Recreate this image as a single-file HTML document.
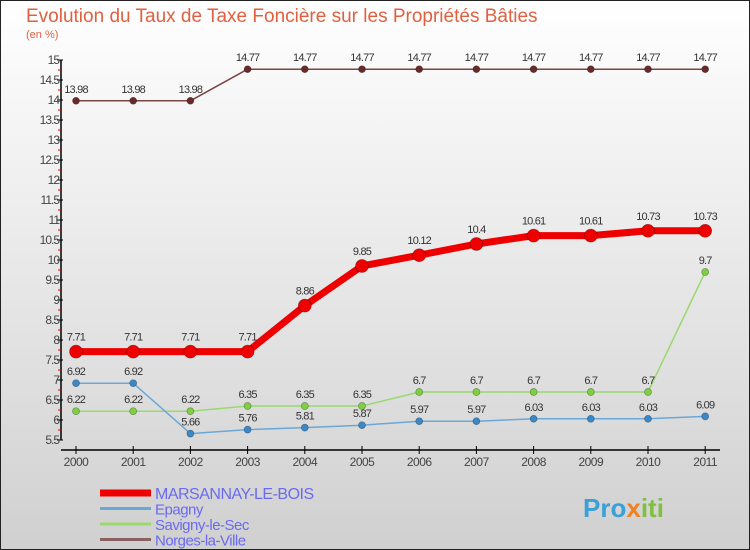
<!DOCTYPE html>
<html><head><meta charset="utf-8"><style>
body{margin:0;}
#wrap{width:750px;height:550px;position:relative;overflow:hidden;}
svg{display:block;font-family:"Liberation Sans",sans-serif;}
</style></head><body>
<div id="wrap">
<svg id="chart" width="750" height="550" viewBox="0 0 750 550" xmlns="http://www.w3.org/2000/svg">
<defs><linearGradient id="bg" x1="0" y1="0" x2="0" y2="1"><stop offset="0" stop-color="#ffffff"/><stop offset="1" stop-color="#d0d0d0"/></linearGradient></defs>
<rect x="0.5" y="0.5" width="749" height="549" fill="url(#bg)" stroke="#222"/>
<text x="26" y="22" font-size="19" fill="#e06040">Evolution du Taux de Taxe Foncière sur les Propriétés Bâties</text>
<text x="26" y="38" font-size="11" fill="#e06040">(en %)</text>
<g id="axes"></g><g id="series"></g><g id="legend"></g>
<text x="583" y="517" font-size="26" font-weight="bold" fill="#3aa0d8">Pro<tspan fill="#f08020">x</tspan><tspan fill="#80c040">iti</tspan></text>
</svg></div>
<script>
const years=[2000,2001,2002,2003,2004,2005,2006,2007,2008,2009,2010,2011];
const marsannay=[7.71,7.71,7.71,7.71,8.86,9.85,10.12,10.4,10.61,10.61,10.73,10.73];
const epagny=[6.92,6.92,5.66,5.76,5.81,5.87,5.97,5.97,6.03,6.03,6.03,6.09];
const savigny=[6.22,6.22,6.22,6.35,6.35,6.35,6.7,6.7,6.7,6.7,6.7,9.7];
const norges=[13.98,13.98,13.98,14.77,14.77,14.77,14.77,14.77,14.77,14.77,14.77,14.77];
const yTicks=[5.5,6,6.5,7,7.5,8,8.5,9,9.5,10,10.5,11,11.5,12,12.5,13,13.5,14,14.5,15];
const names=["MARSANNAY-LE-BOIS","Epagny","Savigny-le-Sec","Norges-la-Ville"];
const NS="http://www.w3.org/2000/svg";
const xS=i=>76+i*57.2;
const yS=v=>440-(v-5.5)*40;
function mk(tag,attrs,parent){const e=document.createElementNS(NS,tag);for(const k in attrs)e.setAttribute(k,attrs[k]);parent.appendChild(e);return e;}
const axes=document.getElementById('axes');
let yl=mk('line',{x1:61,y1:yS(15),x2:61,y2:yS(5.5),stroke:'#000','stroke-width':1.5},axes);


yTicks.forEach(v=>{
  const t=mk('line',{x1:57,x2:63,y1:yS(v),y2:yS(v),stroke:'#000'},axes);
  
  
  if(v<15){const m=mk('line',{x1:58,x2:61,y1:yS(v+0.25),y2:yS(v+0.25),stroke:'#e00000'},axes);
  
  }
  const l=mk('text',{x:59,y:yS(v)+4,'text-anchor':'end','font-size':12,fill:'#444','letter-spacing':'-1'},axes);
  l.textContent=String(v);
  
  
});
let xl=mk('line',{x1:61,y1:450,x2:720,y2:450,stroke:'#000','stroke-width':1.5},axes);


years.forEach((y,i)=>{
  const t=mk('line',{x1:xS(i),x2:xS(i),y1:446,y2:454,stroke:'#000'},axes);
  
  
  const l=mk('text',{x:xS(i),y:466,'text-anchor':'middle','font-size':12,fill:'#444','letter-spacing':'-0.5'},axes);
  l.textContent=String(y);
  
  
});
const ser=document.getElementById('series');
const defs=[
 {d:norges,c:'#6a2a2a',line:'#7a4545',w:1.5,r:3.5,key:'norges'},
 {d:savigny,c:'#7ed040',line:'#9ad870',w:1.5,r:3.5,key:'savigny'},
 {d:epagny,c:'#3a88c8',line:'#6aa8d8',w:1.5,r:3.5,key:'epagny'},
 {d:marsannay,c:'#ee0000',line:'#ee0000',w:7,r:6.5,key:'marsannay'}];
defs.forEach(s=>{
  const p=mk('polyline',{points:s.d.map((v,i)=>xS(i)+','+yS(v)).join(' '),fill:'none',stroke:s.line,'stroke-width':s.w,'stroke-linejoin':'round'},ser);
  
  
  s.d.forEach((v,i)=>{
    const c=mk('circle',{cx:xS(i),cy:yS(v),r:s.r,fill:s.c,stroke:'rgba(0,0,0,0.35)','stroke-width':0.7},ser);
    
    
    const t=mk('text',{x:xS(i),y:yS(v)-(s.key==='marsannay'?11:8),'text-anchor':'middle','font-size':11,fill:'#333','letter-spacing':'-0.8'},ser);
    t.textContent=String(v);
    
    
  });
});
const leg=document.getElementById('legend');
const lc=['#ee0000','#6aa8d8','#9ad870','#8a6060'];const lw=[7,3,3,3];
names.forEach((n,i)=>{
  const y=493+i*15.5;
  const l=mk('line',{x1:100,x2:151,y1:y,y2:y,stroke:lc[i],'stroke-width':lw[i]},leg);
  
  
  const t=mk('text',{x:155,y:y+6,'font-size':i===0?16:15,fill:'#6a6af0','letter-spacing':'-0.5'},leg);
  t.textContent=n;
  
  
});
</script>
</body></html>
